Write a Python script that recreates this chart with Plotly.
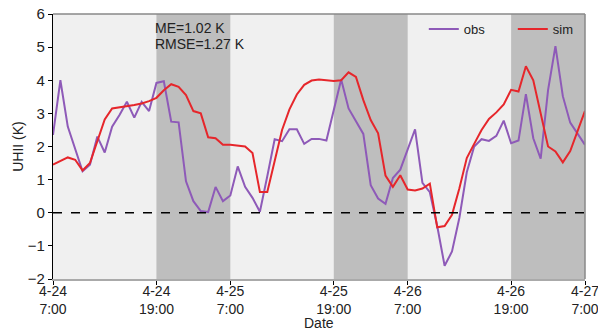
import plotly.graph_objects as go

# hourly index from 4-24 7:00 (as positioned on the reference axis)
hours = list(range(73))

obs = [2.35, 4.0, 2.6, 1.95, 1.25, 1.45, 2.3, 1.82, 2.6, 2.95,
       3.35, 2.87, 3.35, 3.07, 3.92, 3.97, 2.75, 2.73, 0.95, 0.35,
       0.05, 0.02, 0.78, 0.35, 0.52, 1.4, 0.78, 0.45, 0.03, 1.1,
       2.22, 2.16, 2.52, 2.52, 2.08, 2.23, 2.23, 2.18, 3.1, 4.02,
       3.15, 2.78, 2.38, 0.83, 0.43, 0.27, 1.05, 1.3, 1.88, 2.52,
       0.9, 0.62, -0.4, -1.6, -1.17, -0.15, 1.22, 2.0, 2.22, 2.17,
       2.32, 2.78, 2.1, 2.18, 3.58, 2.25, 1.63, 3.7, 5.03, 3.52,
       2.72, 2.38, 2.05]

sim = [1.45, 1.55, 1.67, 1.6, 1.28, 1.5, 2.15, 2.82, 3.15, 3.18,
       3.2, 3.25, 3.3, 3.37, 3.47, 3.7, 3.88, 3.8, 3.55, 3.07,
       3.0, 2.28, 2.25, 2.05, 2.05, 2.03, 2.0, 1.8, 0.63, 0.63,
       1.6, 2.5, 3.12, 3.57, 3.86, 3.99, 4.02, 4.0, 3.98, 4.0,
       4.24, 4.1, 3.4, 2.8, 2.4, 1.12, 0.78, 1.13, 0.7, 0.67,
       0.73, 0.88, -0.44, -0.4, -0.06, 0.74, 1.65, 2.08, 2.5, 2.83,
       3.03, 3.27, 3.71, 3.66, 4.42, 4.0, 3.0, 2.0, 1.85, 1.52,
       1.86, 2.47, 3.08]

tick_pos = [0, 14, 24, 38, 48, 62, 72]
tick_text = ["4-24<br>7:00", "4-24<br>19:00", "4-25<br>7:00", "4-25<br>19:00",
             "4-26<br>7:00", "4-26<br>19:00", "4-27<br>7:00"]
night_spans = [(14, 24), (38, 48), (62, 72)]
y_ticks = [-2, -1, 0, 1, 2, 3, 4, 5, 6]
stats_lines = ["ME=1.02 K", "RMSE=1.27 K"]

FONT = "Liberation Sans, Arial, sans-serif"

fig = go.Figure()
fig.add_trace(go.Scatter(x=hours, y=obs, mode="lines", name="obs",
                         line=dict(color="#8e5ab8", width=2)))
fig.add_trace(go.Scatter(x=hours, y=sim, mode="lines", name="sim",
                         line=dict(color="#e6262b", width=2)))

shapes = []
for a, b in night_spans:
    shapes.append(dict(type="rect", xref="x", yref="paper", x0=a, x1=b, y0=0, y1=1,
                       fillcolor="#bebebe", line=dict(width=0), layer="below"))
# zero line
shapes.append(dict(type="line", xref="paper", yref="y", x0=0, x1=1, y0=0, y1=0,
                   line=dict(color="black", width=1.5, dash="dash")))
# frame top / right
shapes.append(dict(type="line", xref="paper", yref="paper", x0=0, x1=1, y0=1, y1=1,
                   line=dict(color="#888888", width=1.5)))
shapes.append(dict(type="line", xref="paper", yref="paper", x0=1, x1=1, y0=0, y1=1,
                   line=dict(color="#888888", width=1.5)))

annotations = []
for k, line in enumerate(stats_lines):
    annotations.append(dict(xref="x", yref="paper", x=night_spans[0][0], y=1,
                            xanchor="left", yanchor="middle", yshift=-14 - 16 * k,
                            xshift=-2, align="left", showarrow=False, text=line,
                            borderpad=0, font=dict(size=14, color="#222222")))
annotations.append(dict(xref="paper", yref="paper", x=0.5, y=0, xanchor="center",
                        yanchor="middle", yshift=-44, showarrow=False, text="Date",
                        font=dict(size=14, color="#222222")))

fig.update_layout(
    width=598, height=329,
    margin=dict(l=53, r=13, t=14, b=50, autoexpand=False),
    paper_bgcolor="white",
    plot_bgcolor="#f0f0f0",
    font=dict(family=FONT, size=14, color="#222222"),
    shapes=shapes,
    annotations=annotations,
    showlegend=True,
    legend=dict(orientation="h", x=0.697, y=1.0, xanchor="left", yanchor="top",
                bgcolor="rgba(0,0,0,0)", font=dict(size=13),
                entrywidth=44, entrywidthmode="pixels",
                itemwidth=30, tracegroupgap=0),
    xaxis=dict(range=[0, 72], tickmode="array", tickvals=tick_pos, ticktext=tick_text,
               showgrid=False, zeroline=False, showline=True, linecolor="#aaaaaa",
               linewidth=1.5, ticks="outside", ticklen=4, tickcolor="black",
               automargin=False, ticklabeloverflow="allow", ticklabelstandoff=-6,
               tickfont=dict(size=14)),
    yaxis=dict(range=[-2, 6], tickmode="array", tickvals=y_ticks,
               showgrid=False, zeroline=False, showline=True, linecolor="black",
               linewidth=1.2, ticks="outside", ticklen=4, tickcolor="black",
               automargin=False,
               tickfont=dict(size=15), title=dict(text="UHII (K)", font=dict(size=14), standoff=0)),
)

fig.write_html("out.html", config={"displayModeBar": False},
               post_script="document.body.style.margin='0';")
